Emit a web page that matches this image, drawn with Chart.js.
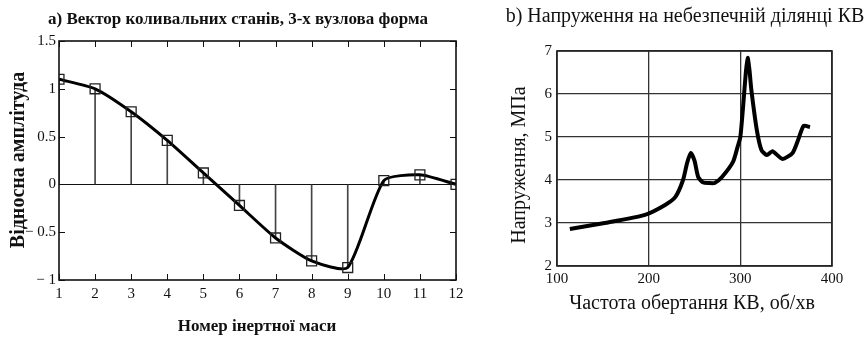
<!DOCTYPE html>
<html>
<head>
<meta charset="utf-8">
<script src="https://cdn.jsdelivr.net/npm/chart.js@4/dist/chart.umd.min.js"></script>
<style>
html,body{margin:0;padding:0;background:#fff;width:867px;height:338px;overflow:hidden;}
.box{position:absolute;top:0;}
</style>
</head>
<body>
<div class="box" style="left:0;width:470px;height:338px"><canvas id="ca" width="470" height="338"></canvas></div>
<div class="box" style="left:480px;width:387px;height:338px"><canvas id="cb" width="387" height="338"></canvas></div>
<script>
// ---- Chart a) data ----
const massNumbers = [1, 2, 3, 4, 5, 6, 7, 8, 9, 10, 11, 12];
const relAmplitude = [1.1, 1.0, 0.76, 0.46, 0.12, -0.22, -0.56, -0.8, -0.87, 0.04, 0.1, 0.0];
const aYTicks = [-1, -0.5, 0, 0.5, 1, 1.5];
const aYTickLabels = ['− 1', '− 0.5', '0', '0.5', '1', '1.5'];
const aXTicks = [1, 2, 3, 4, 5, 6, 7, 8, 9, 10, 11, 12];

// ---- Chart b) data ----
const speedRpm = [114, 152, 196, 218, 229, 237.5, 242, 246, 250, 254, 259, 266, 272, 280, 292, 297, 300, 303, 306, 308, 310, 312, 318, 323, 329, 335, 346, 357, 363, 369, 376];
const stressMPa = [2.86, 3.0, 3.19, 3.42, 3.6, 4.0, 4.4, 4.63, 4.45, 4.07, 3.95, 3.93, 3.93, 4.07, 4.42, 4.77, 5.0, 5.7, 6.5, 6.84, 6.55, 6.1, 5.16, 4.7, 4.58, 4.67, 4.49, 4.63, 4.93, 5.26, 5.23];
const bYTicks = [2, 3, 4, 5, 6, 7];
const bXTicks = [100, 200, 300, 400];

const SERIF = "'Liberation Serif', 'DejaVu Serif', serif";
Chart.defaults.font.family = SERIF;
Chart.defaults.color = '#111';

function textPlugin(items) {
  return {
    id: 'texts',
    afterDraw(chart) {
      const ctx = chart.ctx;
      for (const t of items) {
        ctx.save();
        ctx.font = t.font;
        ctx.fillStyle = '#111';
        ctx.textAlign = 'center';
        ctx.textBaseline = 'middle';
        ctx.translate(t.x, t.y);
        if (t.rot) ctx.rotate(t.rot);
        ctx.fillText(t.text, 0, 0);
        ctx.restore();
      }
    }
  };
}

const frameTicksA = {
  id: 'frameTicksA',
  afterDatasetsDraw(chart) {
    const {ctx, chartArea: a, scales: {x, y}} = chart;
    ctx.save();
    ctx.strokeStyle = '#111';
    ctx.lineWidth = 1;
    const L = 6;
    ctx.beginPath();
    for (const v of aXTicks) {
      const px = Math.round(x.getPixelForValue(v)) + 0.5;
      ctx.moveTo(px, a.bottom); ctx.lineTo(px, a.bottom - L);
      ctx.moveTo(px, a.top); ctx.lineTo(px, a.top + L);
    }
    for (const v of aYTicks) {
      const py = Math.round(y.getPixelForValue(v)) + 0.5;
      ctx.moveTo(a.left, py); ctx.lineTo(a.left + L, py);
      ctx.moveTo(a.right, py); ctx.lineTo(a.right - L, py);
    }
    ctx.stroke();
    ctx.lineWidth = 1.6;
    ctx.strokeRect(a.left, a.top, a.right - a.left, a.bottom - a.top);
    ctx.restore();
  }
};

const frameB = {
  id: 'frameB',
  afterDraw(chart) {
    const {ctx, chartArea: a} = chart;
    ctx.save();
    ctx.strokeStyle = '#222';
    ctx.lineWidth = 1.6;
    ctx.strokeRect(a.left, a.top, a.right - a.left, a.bottom - a.top);
    ctx.restore();
  }
};

new Chart(document.getElementById('ca'), {
  data: {
    datasets: [
      {
        type: 'bar',
        data: massNumbers.map((m, i) => ({x: m, y: relAmplitude[i]})),
        backgroundColor: '#444',
        borderWidth: 0,
        barThickness: 1,
        order: 2
      },
      {
        type: 'line',
        data: massNumbers.map((m, i) => ({x: m, y: relAmplitude[i]})),
        borderColor: '#000',
        borderWidth: 3,
        tension: 0.2,
        pointStyle: 'rect',
        pointRadius: 7,
        pointBorderWidth: 1.3,
        pointBorderColor: '#222',
        pointBackgroundColor: 'rgba(0,0,0,0)',
        order: 1
      }
    ]
  },
  options: {
    responsive: false,
    animation: false,
    devicePixelRatio: 1,
    layout: {padding: {top: 41, right: 14, left: 0, bottom: 0}},
    plugins: {legend: {display: false}, tooltip: {enabled: false}},
    scales: {
      x: {
        type: 'linear', min: 1, max: 12, offset: false,
        afterBuildTicks: s => { s.ticks = aXTicks.map(v => ({value: v})); },
        afterFit: s => { s.height = 58; },
        grid: {display: false, drawTicks: false},
        border: {display: false},
        ticks: {padding: 5, font: {size: 15}, color: '#111', maxRotation: 0, autoSkip: false}
      },
      y: {
        type: 'linear', min: -1, max: 1.5,
        afterBuildTicks: s => { s.ticks = aYTicks.map(v => ({value: v})); },
        afterFit: s => { s.width = 59; },
        grid: {drawTicks: false, color: c => (c.tick && c.tick.value === 0) ? '#111' : 'rgba(0,0,0,0)', lineWidth: 1},
        border: {display: false},
        ticks: {padding: 3, font: {size: 15}, color: '#111',
          callback: v => aYTickLabels[aYTicks.indexOf(v)]}
      }
    }
  },
  plugins: [frameTicksA, textPlugin([
    {text: 'a) Вектор коливальних станів, 3-х вузлова форма', x: 238, y: 20, font: 'bold 17px ' + SERIF},
    {text: 'Номер інертної маси', x: 257, y: 327, font: 'bold 17px ' + SERIF},
    {text: 'Відносна амплітуда', x: 19, y: 160, rot: -Math.PI / 2, font: 'bold 20px ' + SERIF}
  ])]
});

new Chart(document.getElementById('cb'), {
  type: 'scatter',
  data: {
    datasets: [{
      data: speedRpm.map((s, i) => ({x: s, y: stressMPa[i]})),
      showLine: true,
      borderColor: '#000',
      borderWidth: 4,
      tension: 0.2,
      pointRadius: 0
    }]
  },
  options: {
    responsive: false,
    animation: false,
    devicePixelRatio: 1,
    layout: {padding: {top: 51, right: 35, left: 0, bottom: 0}},
    plugins: {legend: {display: false}, tooltip: {enabled: false}},
    scales: {
      x: {
        type: 'linear', min: 100, max: 400,
        afterBuildTicks: s => { s.ticks = bXTicks.map(v => ({value: v})); },
        afterFit: s => { s.height = 72; },
        grid: {drawTicks: false, color: '#333', lineWidth: 1.3},
        border: {display: false},
        ticks: {padding: 4, font: {size: 15}, color: '#111', maxRotation: 0, autoSkip: false}
      },
      y: {
        type: 'linear', min: 2, max: 7,
        afterBuildTicks: s => { s.ticks = bYTicks.map(v => ({value: v})); },
        afterFit: s => { s.width = 77; },
        grid: {drawTicks: false, color: '#333', lineWidth: 1.3},
        border: {display: false},
        ticks: {padding: 5, font: {size: 15}, color: '#111'}
      }
    }
  },
  plugins: [frameB, textPlugin([
    {text: 'b) Напруження на небезпечній ділянці КВ', x: 205, y: 17, font: '20px ' + SERIF},
    {text: 'Частота обертання КВ, об/хв', x: 212, y: 304, font: '20px ' + SERIF},
    {text: 'Напруження, МПа', x: 40, y: 165, rot: -Math.PI / 2, font: '20px ' + SERIF}
  ])]
});
</script>
</body>
</html>
